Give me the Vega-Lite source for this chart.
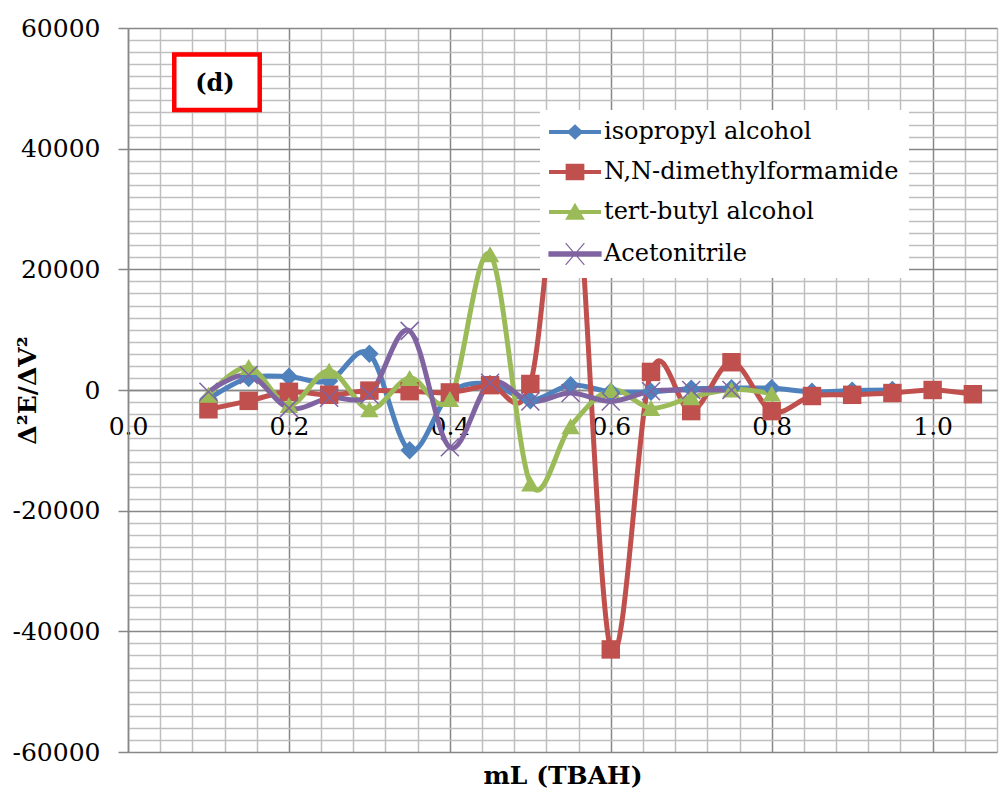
{
  "$schema": "https://vega.github.io/schema/vega-lite/v6.json",
  "width": 869,
  "height": 724,
  "autosize": {"type": "none"},
  "padding": {"left": 128, "top": 28, "right": 7, "bottom": 42},
  "background": "white",
  "config": {"view": {"stroke": null}, "font": "DejaVu Serif"},
  "datasets": {
    "series": [
      {"s": "isopropyl alcohol", "x": 0.1, "y": -1500},
      {"s": "isopropyl alcohol", "x": 0.15, "y": 2000},
      {"s": "isopropyl alcohol", "x": 0.2, "y": 2200},
      {"s": "isopropyl alcohol", "x": 0.25, "y": 1500},
      {"s": "isopropyl alcohol", "x": 0.3, "y": 6000},
      {"s": "isopropyl alcohol", "x": 0.35, "y": -10000},
      {"s": "isopropyl alcohol", "x": 0.4, "y": -500},
      {"s": "isopropyl alcohol", "x": 0.45, "y": 1000},
      {"s": "isopropyl alcohol", "x": 0.5, "y": -1700},
      {"s": "isopropyl alcohol", "x": 0.55, "y": 800},
      {"s": "isopropyl alcohol", "x": 0.6, "y": -300},
      {"s": "isopropyl alcohol", "x": 0.65, "y": -300},
      {"s": "isopropyl alcohol", "x": 0.7, "y": 200},
      {"s": "isopropyl alcohol", "x": 0.75, "y": 300},
      {"s": "isopropyl alcohol", "x": 0.8, "y": 300},
      {"s": "isopropyl alcohol", "x": 0.85, "y": -300},
      {"s": "isopropyl alcohol", "x": 0.9, "y": -100},
      {"s": "isopropyl alcohol", "x": 0.95, "y": 0},
      {"s": "N,N-dimethylformamide", "x": 0.1, "y": -3200},
      {"s": "N,N-dimethylformamide", "x": 0.15, "y": -1800},
      {"s": "N,N-dimethylformamide", "x": 0.2, "y": -300},
      {"s": "N,N-dimethylformamide", "x": 0.25, "y": -800},
      {"s": "N,N-dimethylformamide", "x": 0.3, "y": -100},
      {"s": "N,N-dimethylformamide", "x": 0.35, "y": -200},
      {"s": "N,N-dimethylformamide", "x": 0.4, "y": -400},
      {"s": "N,N-dimethylformamide", "x": 0.45, "y": 800},
      {"s": "N,N-dimethylformamide", "x": 0.5, "y": 1000},
      {"s": "N,N-dimethylformamide", "x": 0.55, "y": 44000},
      {"s": "N,N-dimethylformamide", "x": 0.6, "y": -43000},
      {"s": "N,N-dimethylformamide", "x": 0.65, "y": 3000},
      {"s": "N,N-dimethylformamide", "x": 0.7, "y": -3500},
      {"s": "N,N-dimethylformamide", "x": 0.75, "y": 4600},
      {"s": "N,N-dimethylformamide", "x": 0.8, "y": -3500},
      {"s": "N,N-dimethylformamide", "x": 0.85, "y": -1000},
      {"s": "N,N-dimethylformamide", "x": 0.9, "y": -800},
      {"s": "N,N-dimethylformamide", "x": 0.95, "y": -500},
      {"s": "N,N-dimethylformamide", "x": 1.0, "y": 0},
      {"s": "N,N-dimethylformamide", "x": 1.05, "y": -700},
      {"s": "tert-butyl alcohol", "x": 0.1, "y": -800},
      {"s": "tert-butyl alcohol", "x": 0.15, "y": 3800},
      {"s": "tert-butyl alcohol", "x": 0.2, "y": -2500},
      {"s": "tert-butyl alcohol", "x": 0.25, "y": 3200},
      {"s": "tert-butyl alcohol", "x": 0.3, "y": -3200},
      {"s": "tert-butyl alcohol", "x": 0.35, "y": 2000},
      {"s": "tert-butyl alcohol", "x": 0.4, "y": -1500},
      {"s": "tert-butyl alcohol", "x": 0.45, "y": 22500},
      {"s": "tert-butyl alcohol", "x": 0.5, "y": -15500},
      {"s": "tert-butyl alcohol", "x": 0.55, "y": -6000},
      {"s": "tert-butyl alcohol", "x": 0.6, "y": 0},
      {"s": "tert-butyl alcohol", "x": 0.65, "y": -3000},
      {"s": "tert-butyl alcohol", "x": 0.7, "y": -1200},
      {"s": "tert-butyl alcohol", "x": 0.75, "y": 100},
      {"s": "tert-butyl alcohol", "x": 0.8, "y": -600},
      {"s": "Acetonitrile", "x": 0.1, "y": -300},
      {"s": "Acetonitrile", "x": 0.15, "y": 2500},
      {"s": "Acetonitrile", "x": 0.2, "y": -3000},
      {"s": "Acetonitrile", "x": 0.25, "y": -1300},
      {"s": "Acetonitrile", "x": 0.3, "y": -800},
      {"s": "Acetonitrile", "x": 0.35, "y": 9800},
      {"s": "Acetonitrile", "x": 0.4, "y": -9500},
      {"s": "Acetonitrile", "x": 0.45, "y": 1200},
      {"s": "Acetonitrile", "x": 0.5, "y": -1900},
      {"s": "Acetonitrile", "x": 0.55, "y": -500},
      {"s": "Acetonitrile", "x": 0.6, "y": -1900},
      {"s": "Acetonitrile", "x": 0.65, "y": -200},
      {"s": "Acetonitrile", "x": 0.7, "y": 0},
      {"s": "Acetonitrile", "x": 0.75, "y": 0}
    ],
    "note": [
      {"x": 0.0575, "x2": 0.1637, "y": 55600, "y2": 46400, "tx": 0.108, "ty": 50800, "label": "(d)"}
    ]
  },
  "data": {"name": "series"},
  "layer": [
    {
      "mark": {"type": "line", "interpolate": "cardinal", "tension": 0, "strokeWidth": 5},
      "encoding": {
        "x": {
          "field": "x", "type": "quantitative",
          "scale": {"domain": [0, 1.08], "nice": false, "zero": false},
          "axis": {
            "orient": "bottom",
            "values": [0, 0.04, 0.08, 0.12, 0.16, 0.2, 0.24, 0.28, 0.32, 0.36, 0.4, 0.44, 0.48, 0.52, 0.56, 0.6, 0.64, 0.68, 0.72, 0.76, 0.8, 0.84, 0.88, 0.92, 0.96, 1.0, 1.04, 1.08],
            "grid": true,
            "gridColor": {"condition": {"test": "abs(datum.value*5 - round(datum.value*5)) < 0.001", "value": "#878787"}, "value": "#BFBFBF"},
            "gridWidth": 1.5,
            "labels": false, "ticks": false, "tickSize": 0, "domain": false,
            "title": "mL (TBAH)",
            "titleFont": "DejaVu Serif", "titleFontSize": 25, "titleFontWeight": "bold", "titleColor": "black",
            "titlePadding": 11
          }
        },
        "y": {
          "field": "y", "type": "quantitative",
          "scale": {"domain": [-60000, 60000], "nice": false, "zero": false},
          "axis": {
            "orient": "left",
            "values": [-60000, -58000, -56000, -54000, -52000, -50000, -48000, -46000, -44000, -42000, -40000, -38000, -36000, -34000, -32000, -30000, -28000, -26000, -24000, -22000, -20000, -18000, -16000, -14000, -12000, -10000, -8000, -6000, -4000, -2000, 0, 2000, 4000, 6000, 8000, 10000, 12000, 14000, 16000, 18000, 20000, 22000, 24000, 26000, 28000, 30000, 32000, 34000, 36000, 38000, 40000, 42000, 44000, 46000, 48000, 50000, 52000, 54000, 56000, 58000, 60000],
            "grid": true,
            "gridColor": {"condition": {"test": "datum.value % 20000 === 0", "value": "#878787"}, "value": "#BFBFBF"},
            "gridWidth": 1.5,
            "domain": true, "domainColor": "#878787", "domainWidth": 1.5,
            "ticks": true, "tickSize": 10, "tickWidth": 1.5,
            "tickColor": {"condition": {"test": "datum.value % 20000 === 0", "value": "#878787"}, "value": "transparent"},
            "labelExpr": "datum.value % 20000 === 0 ? '' + datum.value : ''",
            "labelFont": "DejaVu Serif", "labelFontSize": 25, "labelColor": "black",
            "labelPadding": 18, "labelOverlap": false,
            "title": "Δ²E/ΔV²",
            "titleFont": "DejaVu Serif", "titleFontSize": 25, "titleFontWeight": "bold", "titleColor": "black",
            "titleX": -101, "titleY": 362, "titleAngle": -90, "titleAlign": "center", "titleBaseline": "middle"
          }
        },
        "color": {
          "field": "s", "type": "nominal",
          "scale": {
            "domain": ["isopropyl alcohol", "N,N-dimethylformamide", "tert-butyl alcohol", "Acetonitrile"],
            "range": ["#4F81BD", "#C0504D", "#9BBB59", "#8064A2"]
          },
          "legend": {
            "title": null,
            "orient": "none", "legendX": 412, "legendY": 82,
            "fillColor": "white", "padding": 10,
            "labelFont": "DejaVu Serif", "labelFontSize": 24, "labelColor": "black",
            "labelOffset": 30, "labelLimit": 600,
            "symbolSize": 2704, "rowPadding": 16,
            "zindex": 1,
            "encode": {
              "symbols": {
                "update": {
                  "shape": {"signal": "datum.value === 'isopropyl alcohol' ? 'M-0.5,-0.08H1.5V0.08H-0.5Z M0.5,-0.3L0.82,0L0.5,0.3L0.18,0Z' : datum.value === 'N,N-dimethylformamide' ? 'M-0.5,-0.08H1.5V0.08H-0.5Z M0.14,-0.32H0.86V0.32H0.14Z' : datum.value === 'tert-butyl alcohol' ? 'M-0.5,-0.08H1.5V0.08H-0.5Z M0.5,-0.36L0.88,0.3H0.12Z' : 'M-0.5,-0.08H1.5V0.08H-0.5Z M0.14,-0.42L0.86,0.42M0.14,0.42L0.86,-0.42'"},
                  "fill": {"signal": "scale('color', datum.value)"},
                  "stroke": {"signal": "scale('color', datum.value)"},
                  "strokeWidth": {"signal": "datum.value === 'Acetonitrile' ? 1.2 : 0"},
                  "opacity": {"value": 1}
                }
              }
            }
          }
        }
      }
    },
    {
      "transform": [{"filter": "datum.s !== 'Acetonitrile'"}],
      "mark": {"type": "point", "filled": true, "opacity": 1, "size": 340},
      "encoding": {
        "x": {
          "field": "x", "type": "quantitative",
          "axis": {
            "orient": "bottom", "offset": -362,
            "values": [0, 0.2, 0.4, 0.6, 0.8, 1.0], "format": ".1f",
            "grid": false, "ticks": false, "tickSize": 0,
            "domain": true, "domainColor": "#878787", "domainWidth": 1.5,
            "labelFont": "DejaVu Serif", "labelFontSize": 25, "labelColor": "black",
            "labelPadding": 24, "labelOverlap": false, "labelFlush": false,
            "title": null
          }
        },
        "y": {"field": "y", "type": "quantitative", "axis": null},
        "color": {"field": "s", "type": "nominal", "legend": null},
        "shape": {
          "field": "s", "type": "nominal",
          "scale": {"domain": ["isopropyl alcohol", "N,N-dimethylformamide", "tert-butyl alcohol"], "range": ["diamond", "square", "triangle-up"]},
          "legend": null
        }
      }
    },
    {
      "transform": [{"filter": "datum.s === 'Acetonitrile'"}],
      "mark": {"type": "point", "filled": false, "shape": "M-1,-1L1,1M-1,1L1,-1", "size": 324, "strokeWidth": 1.5, "color": "#8064A2", "opacity": 1},
      "encoding": {
        "x": {"field": "x", "type": "quantitative", "axis": null},
        "y": {"field": "y", "type": "quantitative", "axis": null}
      }
    },
    {
      "data": {"name": "note"},
      "mark": {"type": "rect", "fill": "white", "stroke": "#FF0000", "strokeWidth": 4.5},
      "encoding": {
        "x": {"field": "x", "type": "quantitative", "axis": null},
        "x2": {"field": "x2"},
        "y": {"field": "y", "type": "quantitative", "axis": null},
        "y2": {"field": "y2"}
      }
    },
    {
      "data": {"name": "note"},
      "mark": {"type": "text", "font": "DejaVu Serif", "fontSize": 24, "fontWeight": "bold", "color": "black", "align": "center", "baseline": "middle"},
      "encoding": {
        "x": {"field": "tx", "type": "quantitative", "axis": null},
        "y": {"field": "ty", "type": "quantitative", "axis": null},
        "text": {"field": "label"}
      }
    }
  ],
  "resolve": {"axis": {"x": "independent", "y": "independent"}}
}
